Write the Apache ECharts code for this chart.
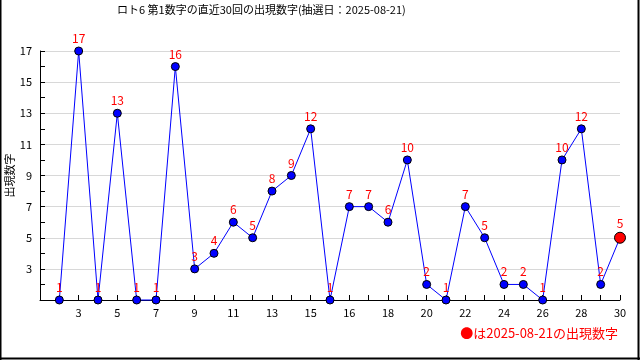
<!DOCTYPE html>
<html>
<head>
<meta charset="utf-8">
<script src="https://cdn.jsdelivr.net/npm/echarts@6/dist/echarts.min.js"></script>
<style>html,body{margin:0;padding:0;background:#fff;}#c{width:640px;height:360px;}</style>
</head>
<body>
<div id="c"></div>
<script>
var titleText = 'ロト6 第1数字の直近30回の出現数字(抽選日：2025-08-21)';
var yAxisName = '出現数字';
var legendText = '●は2025-08-21の出現数字';
var values = [1,17,1,13,1,1,16,3,4,6,5,8,9,12,1,7,7,6,10,2,1,7,5,2,2,1,10,12,2,5];
var xTickLabels = ['','','3','','5','','7','','9','','11','','13','','15','','16','','18','','20','','22','','24','','26','','28','','30'];
var yTickLabels = {3:'3',5:'5',7:'7',9:'9',11:'11',13:'13',15:'15',17:'17'};

var FONT = 'Noto Sans CJK JP';
var data = values.map(function (v, i) {
  var d = { value: [i + 1, v] };
  if (i === values.length - 1) {
    d.symbolSize = 11;
    d.itemStyle = { color: '#ff0000', borderColor: '#000', borderWidth: 1 };
  }
  return d;
});

var chart = echarts.init(document.getElementById('c'), null, { renderer: 'canvas' });
chart.setOption({
  animation: false,
  backgroundColor: '#fff',
  grid: { left: 40, right: 20, top: 51, bottom: 60, containLabel: false, outerBoundsMode: 'none' },
  xAxis: {
    type: 'value', min: 0, max: 30, interval: 1,
    axisLine: { show: true, lineStyle: { color: '#000', width: 1 } },
    axisTick: { show: true, inside: true, length: 5, lineStyle: { color: '#000' } },
    axisLabel: {
      color: '#000', fontSize: 11, fontFamily: FONT, margin: 7,
      formatter: function (v) { return xTickLabels[v] || ''; }
    },
    splitLine: { show: false }
  },
  yAxis: {
    type: 'value', min: 1, max: 17, interval: 1,
    name: yAxisName, nameLocation: 'middle', nameGap: 25, nameRotate: 90, nameMoveOverlap: false,
    nameTextStyle: { color: '#000', fontSize: 11, fontFamily: FONT },
    axisLine: { show: true, lineStyle: { color: '#000', width: 1 } },
    axisTick: { show: true, inside: true, length: 5, lineStyle: { color: '#000' } },
    axisLabel: {
      color: '#000', fontSize: 11, fontFamily: FONT, margin: 8,
      formatter: function (v) { return yTickLabels[v] || ''; }
    },
    splitLine: { show: true, lineStyle: { color: ['#d8d8d8', 'rgba(0,0,0,0)'], width: 1 } }
  },
  series: [{
    type: 'line',
    data: data,
    clip: false,
    symbol: 'circle',
    symbolSize: 8,
    lineStyle: { color: '#0000ff', width: 1 },
    itemStyle: { color: '#0000ff', borderColor: '#000', borderWidth: 1 },
    label: {
      show: true, position: 'top', distance: 2,
      color: '#ff0000', fontSize: 12, fontFamily: FONT,
      formatter: function (p) { return p.value[1]; }
    },
    z: 3
  }],
  graphic: [
    { type: 'text', left: 117, top: 4, style: { text: titleText, fill: '#000', font: '11px "' + FONT + '"' } },
    { type: 'text', x: 618, y: 333, style: { text: legendText, fill: '#ff0000', font: '13px "' + FONT + '"', align: 'right', verticalAlign: 'middle' } },
    { type: 'line', shape: { x1: 0.5, y1: 0, x2: 0.5, y2: 360 }, style: { stroke: '#000', lineWidth: 2 } },
    { type: 'line', shape: { x1: 638.5, y1: 0, x2: 638.5, y2: 360 }, style: { stroke: '#000', lineWidth: 2 } },
    { type: 'line', shape: { x1: 0, y1: 358.5, x2: 640, y2: 358.5 }, style: { stroke: '#000', lineWidth: 2 } }
  ]
});
</script>
</body>
</html>
